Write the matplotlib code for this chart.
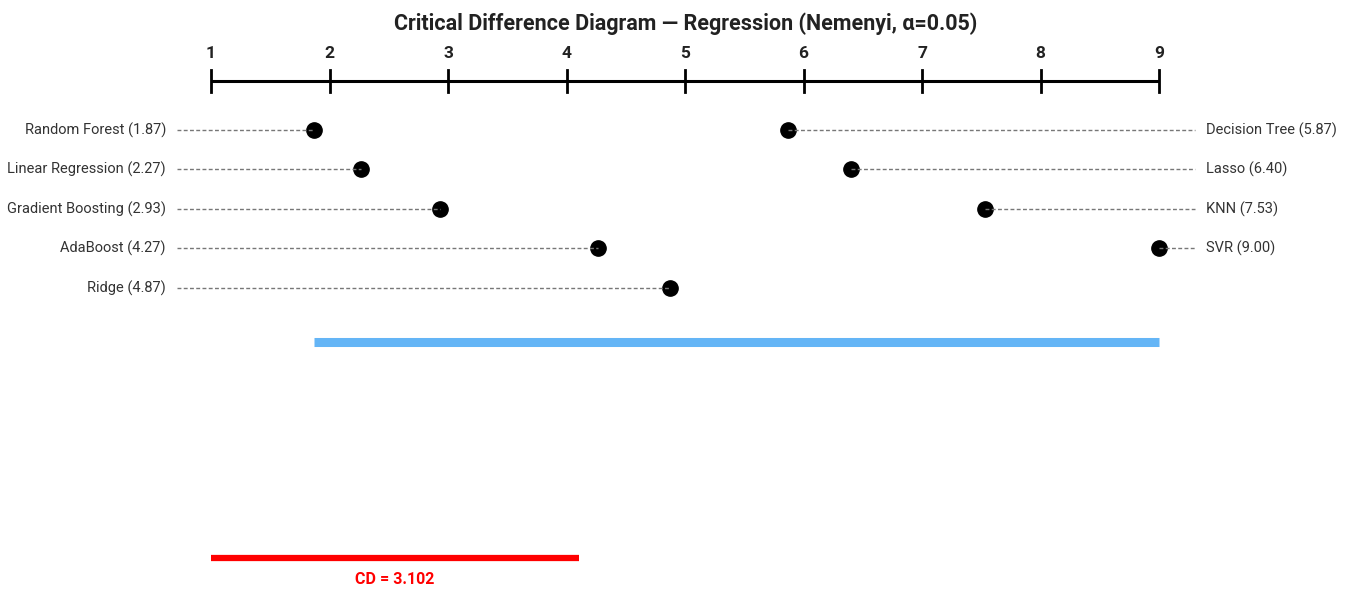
import matplotlib
matplotlib.use("Agg")
import matplotlib.pyplot as plt

names_left = ["Random Forest", "Linear Regression", "Gradient Boosting", "AdaBoost", "Ridge"]
ranks_left = [1.87, 2.27, 2.93, 4.27, 4.87]
names_right = ["Decision Tree", "Lasso", "KNN", "SVR"]
ranks_right = [5.87, 6.40, 7.53, 9.00]
tick_values = [1, 2, 3, 4, 5, 6, 7, 8, 9]
cd_value = 3.102
clique_ranks = [1.87, 9.00]

plt.rcParams["font.family"] = ["Roboto", "DejaVu Sans"]

W, H = 1348, 589
fig = plt.figure(figsize=(W / 100, H / 100), dpi=100)
ax = fig.add_axes([0, 0, 1, 1])
ax.set_axis_off()

ppu = (1159 - 211) / 8.0
ax.set_xlim(1 - 211 / ppu, 9 + (W - 1159) / ppu)
ax.set_ylim(H, 0)

def px(p):
    return 1 + (p - 211) / ppu

# title
ax.text((px(393) + px(978)) / 2, 23.5, "Critical Difference Diagram — Regression (Nemenyi, α=0.05)",
        ha="center", va="center", fontsize=15.5, fontweight="bold", color="#222222")

# axis
axis_y = 81
ax.plot([tick_values[0], tick_values[-1]], [axis_y, axis_y], color="black", lw=2.2, solid_capstyle="butt")
for t in tick_values:
    ax.plot([t, t], [70, 92], color="black", lw=2.0)
    ax.text(t, 53.5, str(t), ha="center", va="center", fontsize=12.5, fontweight="bold", color="#222222")

row0, dy = 129.5, 39.5
lab_left_x = px(166)
line_left_x = px(177)
line_right_x = px(1195)
lab_right_x = px(1206)

for i, (n, r) in enumerate(zip(names_left, ranks_left)):
    y = row0 + i * dy
    ax.plot(r, y, "o", color="black", ms=11, zorder=3)
    ax.plot([line_left_x, r], [y, y], ls=(0, (2.8, 1.7)), color="#777777", lw=1.0, zorder=4)
    ax.text(lab_left_x, y + 0.5, f"{n} ({r:.2f})", ha="right", va="center", fontsize=10.5, color="#333333")

for i, (n, r) in enumerate(zip(names_right, ranks_right)):
    y = row0 + i * dy
    ax.plot(r, y, "o", color="black", ms=11, zorder=3)
    ax.plot([r, line_right_x], [y, y], ls=(0, (2.8, 1.7)), color="#777777", lw=1.0, zorder=4)
    ax.text(lab_right_x, y + 0.5, f"{n} ({r:.2f})", ha="left", va="center", fontsize=10.5, color="#333333")

# clique bar
ax.plot(clique_ranks, [342, 342], color="#64B5F6", lw=6.5, solid_capstyle="butt")

# CD bar
ax.plot([1, 1 + cd_value], [558, 558], color="red", lw=4.5, solid_capstyle="butt")
ax.text(1 + cd_value / 2, 579, f"CD = {cd_value:.3f}", ha="center", va="center",
        fontsize=11.5, fontweight="bold", color="red")

fig.savefig("out.png", dpi=100, facecolor="white")
